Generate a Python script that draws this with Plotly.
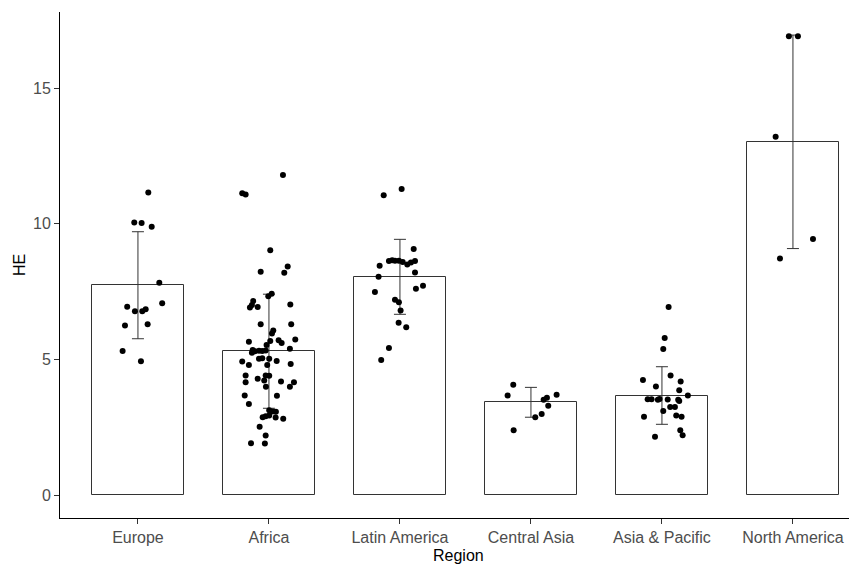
import plotly.graph_objects as go

categories = ["Europe", "Africa", "Latin America", "Central Asia", "Asia & Pacific", "North America"]
means = [7.74, 5.31, 8.05, 3.43, 3.68, 13.02]
sds = [1.97, 2.10, 1.38, 0.55, 1.06, 3.93]

europe_he = [11.15, 10.05, 10.03, 9.89, 7.83, 7.08, 6.95, 6.78, 6.78, 6.86, 6.26, 6.30, 5.32, 4.94]
europe_jit = [0.079, -0.028, 0.028, 0.105, 0.163, 0.185, -0.082, -0.023, 0.033, 0.059, -0.099, 0.074, -0.117, 0.023]

africa_he = [11.80, 11.13, 11.08, 9.03, 8.43, 8.24, 8.20, 7.43, 7.33, 7.16, 7.01, 6.92, 6.94, 7.03,
             6.30, 6.30, 6.07, 5.96, 5.69, 5.71, 5.61, 5.74, 5.66, 5.54, 5.40, 5.36, 5.31, 5.33,
             5.32, 5.34, 5.25, 5.03, 5.05, 5.03, 4.93, 4.80, 4.80, 4.95, 4.84, 4.42, 4.42, 4.41,
             4.17, 4.30, 4.23, 4.20, 4.17, 4.00, 4.00, 3.68, 3.67, 3.37, 3.14, 3.09, 2.88, 2.92,
             2.94, 2.87, 2.82, 3.08, 2.53, 2.21, 1.92, 1.91]
africa_jit = [0.107, -0.204, -0.178, 0.010, 0.143, -0.063, 0.117, 0.021, -0.005, -0.120, -0.130, -0.145, -0.086, 0.163,
              -0.063, 0.170, 0.033, 0.023, 0.010, 0.074, 0.097, 0.201, -0.153, -0.018, 0.160, -0.124, -0.107, -0.076,
              -0.051, -0.025, -0.130, -0.076, -0.051, 0.002, -0.204, -0.153, -0.013, 0.059, 0.166, -0.178, -0.025, 0.002,
              -0.178, -0.086, -0.036, 0.092, 0.191, 0.160, -0.023, -0.185, 0.061, -0.153, 0.002, 0.028, -0.048, -0.025,
              0.002, 0.051, 0.109, 0.053, -0.071, -0.025, -0.137, -0.031]

latam_he = [11.28, 11.05, 9.07, 8.63, 8.66, 8.64, 8.64, 8.60, 8.50, 8.58, 8.63, 8.46, 8.21, 8.05,
            7.49, 7.61, 7.72, 7.21, 7.11, 6.81, 6.36, 6.19, 5.43, 4.99]
latam_jit = [0.013, -0.124, 0.105, -0.084, -0.059, -0.038, -0.008, 0.021, 0.056, 0.084, 0.115, -0.155, 0.115, -0.163,
             -0.191, 0.122, 0.176, -0.038, -0.008, 0.005, -0.010, 0.048, -0.084, -0.143]

casia_he = [4.08, 3.68, 3.71, 3.60, 3.52, 3.30, 3.00, 2.88, 2.40]
casia_jit = [-0.135, -0.178, 0.196, 0.122, 0.097, 0.132, 0.082, 0.033, -0.132]

asiapac_he = [6.94, 5.80, 5.39, 4.25, 4.42, 4.20, 4.01, 3.87, 3.68, 3.54, 3.54, 3.52, 3.55, 3.53, 3.52,
              3.48, 3.26, 3.26, 3.11, 2.90, 2.94, 2.90, 2.40, 2.22, 2.16]
asiapac_jit = [0.051, 0.021, 0.010, -0.145, 0.066, 0.143, -0.046, 0.132, 0.198, -0.109, -0.079, -0.031, -0.018, 0.044, 0.124,
               0.132, 0.063, 0.099, 0.010, -0.137, 0.109, 0.150, 0.140, 0.158, -0.053]

namerica_he = [16.91, 16.91, 13.21, 9.44, 8.72]
namerica_jit = [-0.031, 0.038, -0.132, 0.153, -0.099]

groups = [(europe_he, europe_jit), (africa_he, africa_jit), (latam_he, latam_jit),
          (casia_he, casia_jit), (asiapac_he, asiapac_jit), (namerica_he, namerica_jit)]

px_x, px_y = [], []
for i, (vals, jit) in enumerate(groups):
    for v, j in zip(vals, jit):
        px_x.append(i + j)
        px_y.append(v)

fig = go.Figure()
fig.add_trace(go.Bar(
    x=list(range(len(categories))), y=means, width=0.7,
    marker=dict(color="white", line=dict(color="#333333", width=1)),
    error_y=dict(type="data", array=sds, visible=True, color="#333333", thickness=1, width=6),
    hoverinfo="skip", showlegend=False,
))
fig.add_trace(go.Scatter(
    x=px_x, y=px_y, mode="markers",
    marker=dict(color="black", size=6),
    showlegend=False,
))

font_family = "Liberation Sans, Arial, sans-serif"
fig.update_layout(
    width=849, height=558,
    margin=dict(l=52, r=0, t=4, b=48, autoexpand=False),
    plot_bgcolor="white", paper_bgcolor="white",
    font=dict(family=font_family, size=16, color="black"),
    bargap=0,
    annotations=[
        dict(text="Region", xref="paper", yref="paper", x=0.5, y=-37 / 506,
             xanchor="center", yanchor="middle", showarrow=False,
             font=dict(size=16, color="black")),
        dict(text="HE", xref="paper", yref="paper", x=-41 / 797, y=0.5,
             xanchor="center", yanchor="middle", showarrow=False, textangle=-90,
             font=dict(size=16, color="black")),
    ],
)
fig.update_xaxes(
    range=[-0.595, 5.489], tickvals=list(range(len(categories))), ticktext=categories,
    showgrid=False, zeroline=False, showline=True, linecolor="black", linewidth=1,
    ticks="outside", ticklen=5, tickcolor="#333333", automargin=False,
    tickfont=dict(size=16, color="#4d4d4d"),
)
fig.update_yaxes(
    range=[-0.83, 17.8], tickvals=[0, 5, 10, 15],
    showgrid=False, zeroline=False, showline=True, linecolor="black", linewidth=1,
    ticks="outside", ticklen=5, tickcolor="#333333", automargin=False,
    tickfont=dict(size=16, color="#4d4d4d"),
)

fig.write_html("out.html")
